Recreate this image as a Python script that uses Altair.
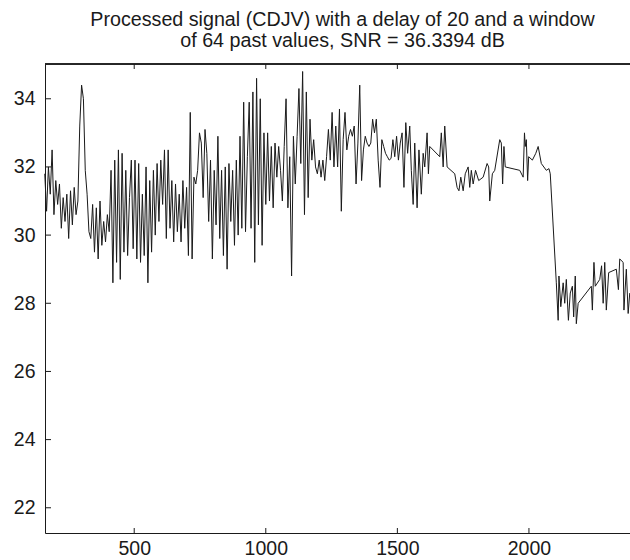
import altair as alt
import pandas as pd

# ---------------- data ----------------
# densely sampled part: start position, spacing, and values per stretch
dense_x0 = 160
dense_dx = 7
seg1 = [31.8, 30.7, 32.0, 31.2, 32.5, 30.6, 31.6, 30.9, 31.5, 30.2, 31.1, 30.4, 31.2, 29.9, 31.3, 30.3, 31.4, 30.6, 31.0]
seg2 = [33.2, 34.4, 34.0, 31.9, 31.2, 30.1, 29.9]
seg3 = [30.9, 29.5, 30.8, 29.3, 31.0, 29.7, 30.4, 29.8, 30.6, 30.1]
seg4 = [31.9, 28.6, 32.2, 29.2, 32.5, 28.7, 32.4, 29.5, 31.9, 29.4,
        31.1, 32.2, 29.6, 32.2, 29.3, 32.1, 29.2, 31.2, 29.4, 32.0,
        28.6, 31.6, 29.5, 31.9, 30.0, 32.1, 30.4, 32.2, 30.9, 32.5,
        29.9, 32.5, 30.2, 31.6, 29.8, 31.5, 30.1, 31.2, 29.8, 31.6,
        30.2, 31.4, 29.4, 33.6]
seg5 = [29.3, 31.7, 31.5, 31.9, 33.0, 32.7, 31.1, 33.1, 32.4, 30.4,
        32.2, 29.3, 31.9, 30.3, 32.9, 29.9, 31.9, 29.4, 32.0, 29.0,
        32.1, 30.4, 31.9, 29.7, 32.2, 30.0]
seg6 = [32.9, 30.2, 33.9, 30.1, 32.3, 33.9, 30.2, 34.2, 29.2, 34.6,
        30.3, 34.0, 29.7, 33.0, 30.9, 33.0, 31.0, 32.6, 30.8, 32.7,
        31.7, 32.6, 31.9, 31.0, 32.6, 34.0, 30.8, 32.3, 28.8]
seg7 = [32.9, 31.5, 32.9, 34.3, 32.1, 34.8, 30.6, 34.2, 31.1, 33.4,
        32.2, 32.8, 32.0, 31.8, 32.2, 31.7, 32.2, 31.6]
seg8 = [32.3, 33.1, 32.2, 33.6, 32.0, 33.2, 32.0, 33.7, 30.7, 32.8,
        33.6, 32.5, 32.9, 33.1, 32.9, 33.2, 31.5, 32.7, 34.4, 31.6]
seg9 = [32.5, 32.9, 32.7, 32.6, 32.7, 33.4, 33.0, 33.4, 32.2, 31.4,
        32.8, 32.6, 32.4, 32.3, 32.2, 32.25, 32.8, 32.3, 32.9, 32.2,
        32.7, 33.0, 31.4, 33.3, 32.4]

# sparser part with explicit positions
sparse_x = [1547, 1553, 1560, 1566, 1575, 1582, 1591, 1598, 1604, 1613,
            1618, 1623, 1661, 1667, 1674, 1680, 1689, 1718, 1727, 1734,
            1741, 1750, 1758, 1769, 1775, 1781, 1788, 1797, 1809, 1826,
            1841, 1847, 1851, 1861, 1870, 1889, 1895, 1900, 1905, 1910,
            1965, 1978, 1983, 1986, 1990, 1995, 1999, 2013, 2026, 2035,
            2047, 2066, 2076, 2081, 2104, 2111, 2114, 2121, 2130, 2136,
            2142, 2150, 2157, 2165, 2170, 2176, 2180, 2187, 2237, 2241,
            2247, 2252, 2269, 2276, 2282, 2288, 2294, 2303, 2332, 2340,
            2345, 2358, 2361, 2370, 2377, 2383]
sparse_y = [33.2, 31.9, 30.9, 32.7, 30.8, 32.5, 31.2, 32.4, 32.0, 33.0,
            31.8, 32.6, 32.3, 33.0, 32.0, 33.2, 32.0, 31.8, 31.4, 31.3,
            31.7, 31.3, 31.8, 32.0, 31.4, 31.9, 31.5, 31.9, 31.6, 31.7,
            32.1, 32.0, 31.0, 31.8, 31.9, 32.8, 32.7, 31.5, 32.6, 32.0,
            31.9, 31.7, 33.0, 32.6, 32.8, 31.6, 32.3, 32.2, 32.4, 32.6,
            32.1, 31.9, 31.95, 31.8, 28.6, 27.5, 28.8, 27.9, 28.6, 28.0,
            28.7, 27.5, 28.3, 28.5, 27.6, 28.8, 27.4, 28.0, 28.5, 27.8,
            29.2, 28.5, 28.7, 29.1, 28.0, 29.2, 27.8, 28.9, 29.0, 28.4,
            29.3, 29.2, 27.8, 29.0, 27.7, 28.3]

x_ticks = [500, 1000, 1500, 2000]
y_ticks = [22, 24, 26, 28, 30, 32, 34]
x_domain = [161, 2384]
y_domain = [21.26, 35.02]
title_lines = ["Processed signal (CDJV) with a delay of 20 and a window",
               "of 64 past values, SNR = 36.3394 dB"]

# ---------------- build table ----------------
dense_y = seg1 + seg2 + seg3 + seg4 + seg5 + seg6 + seg7 + seg8 + seg9
dense_x = [dense_x0 + i * dense_dx for i in range(len(dense_y))]
df = pd.DataFrame({"x": dense_x + sparse_x, "y": dense_y + sparse_y})
df["order"] = range(len(df))

W, H = 585, 469
FONT = "Liberation Sans"
INK = "#1a1a1a"

xs = alt.Scale(domain=x_domain, nice=False, zero=False)
ys = alt.Scale(domain=y_domain, nice=False, zero=False)

x_axis = alt.Axis(values=x_ticks, format="d", title=None, grid=False, ticks=False,
                  domain=True, domainColor=INK, domainWidth=1,
                  labels=True, labelFont=FONT, labelFontSize=19.5,
                  labelColor=INK, labelPadding=6, labelFlush=False,
                  labelOverlap=False)
y_axis = alt.Axis(values=y_ticks, format="d", title=None, grid=False, ticks=False,
                  domain=True, domainColor=INK, domainWidth=1,
                  labels=True, labelFont=FONT, labelFontSize=19.5,
                  labelColor=INK, labelPadding=10, labelOverlap=False)

line = alt.Chart(df).mark_line(color=INK, strokeWidth=1).encode(
    x=alt.X("x:Q", scale=xs, axis=x_axis, title=None),
    y=alt.Y("y:Q", scale=ys, axis=y_axis, title=None),
    order="order:Q",
)

xt = pd.DataFrame({"x": x_ticks})
yt = pd.DataFrame({"y": y_ticks})

xtick_bottom = alt.Chart(xt).mark_rule(color=INK, strokeWidth=1).encode(
    x=alt.X("x:Q", scale=xs, axis=x_axis, title=None),
    y=alt.value(H), y2=alt.value(H - 5))
xtick_top = alt.Chart(xt).mark_rule(color=INK, strokeWidth=1).encode(
    x=alt.X("x:Q", scale=xs, axis=x_axis, title=None),
    y=alt.value(0), y2=alt.value(5))
ytick_left = alt.Chart(yt).mark_rule(color=INK, strokeWidth=1).encode(
    y=alt.Y("y:Q", scale=ys, axis=y_axis, title=None),
    x=alt.value(0), x2=alt.value(6))
top_frame = alt.Chart(xt).mark_rule(color=INK, strokeWidth=1).encode(
    x=alt.value(0), x2=alt.value(W), y=alt.value(0))

chart = alt.layer(line, xtick_bottom, xtick_top, ytick_left, top_frame).properties(
    width=W, height=H,
    autosize=alt.AutoSizeParams(type="none"),
    padding={"left": 45, "top": 64, "right": 0, "bottom": 27},
    title=alt.TitleParams(text=title_lines, font=FONT, fontSize=19.7,
                          fontWeight="normal", color=INK, lineHeight=21,
                          anchor="middle", dx=5, offset=13),
).configure_view(stroke="transparent").configure(background="white")

chart.save("out.html", embed_options={"renderer": "svg", "actions": False})
